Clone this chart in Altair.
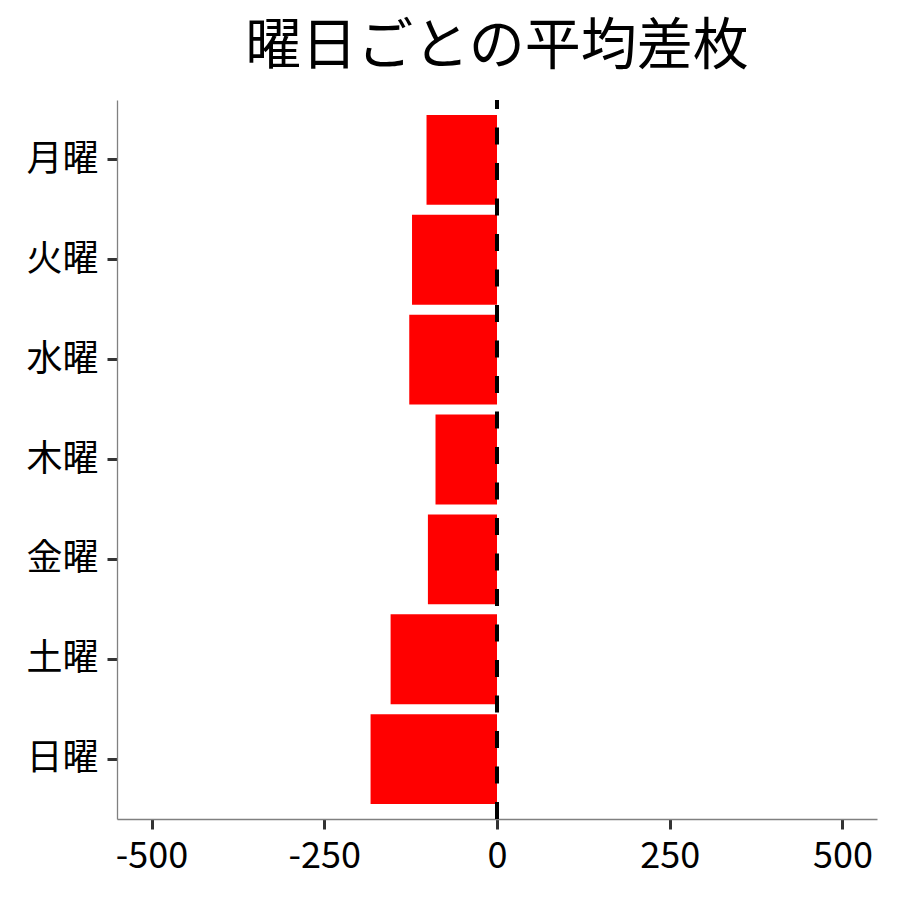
import altair as alt
import pandas as pd

days = ["月曜", "火曜", "水曜", "木曜", "金曜", "土曜", "日曜"]
avg_diff = [-102, -123, -127, -89, -100, -154, -183]
x_ticks = [-500, -250, 0, 250, 500]

df = pd.DataFrame({"day": days, "value": avg_diff})
FONT = "Noto Sans CJK JP"

bars = alt.Chart(df).mark_bar(color="#FF0000").encode(
    x=alt.X("value:Q",
            scale=alt.Scale(domain=[-550, 550], nice=False, zero=False),
            axis=alt.Axis(values=x_ticks, title=None, grid=False,
                          labelExpr="'' + datum.value",
                          labelFont=FONT, labelFontSize=36, labelColor="black",
                          labelPadding=10, tickSize=10, tickWidth=3, tickColor="#333333",
                          domainColor="#808080", domainWidth=1.3, labelFlush=False)),
    y=alt.Y("day:N", sort=days,
            scale=alt.Scale(paddingInner=0.1, paddingOuter=0.15),
            axis=alt.Axis(title=None, grid=False,
                          labelFont=FONT, labelFontSize=36, labelColor="black",
                          labelPadding=9, tickSize=10, tickWidth=3, tickColor="#333333",
                          domainColor="#808080", domainWidth=1.3)),
)

zero_line = alt.Chart(pd.DataFrame({"z": [0]})).mark_rule(
    color="black", strokeWidth=4, strokeDash=[17, 18.5]
).encode(
    x="z:Q",
    y=alt.value(719),
    y2=alt.value(0),
)

chart = alt.layer(bars, zero_line).properties(
    width=760,
    height=719,
    background="white",
    title=alt.TitleParams("曜日ごとの平均差枚", font=FONT, fontSize=56,
                          fontWeight="normal", color="black", anchor="middle", offset=22),
    autosize=alt.AutoSizeParams(type="none"),
    padding={"left": 109, "top": 92, "right": 8, "bottom": 60},
).configure_view(strokeWidth=0, stroke="transparent")

chart.save("out.html", embed_options={"renderer": "svg", "actions": False})
